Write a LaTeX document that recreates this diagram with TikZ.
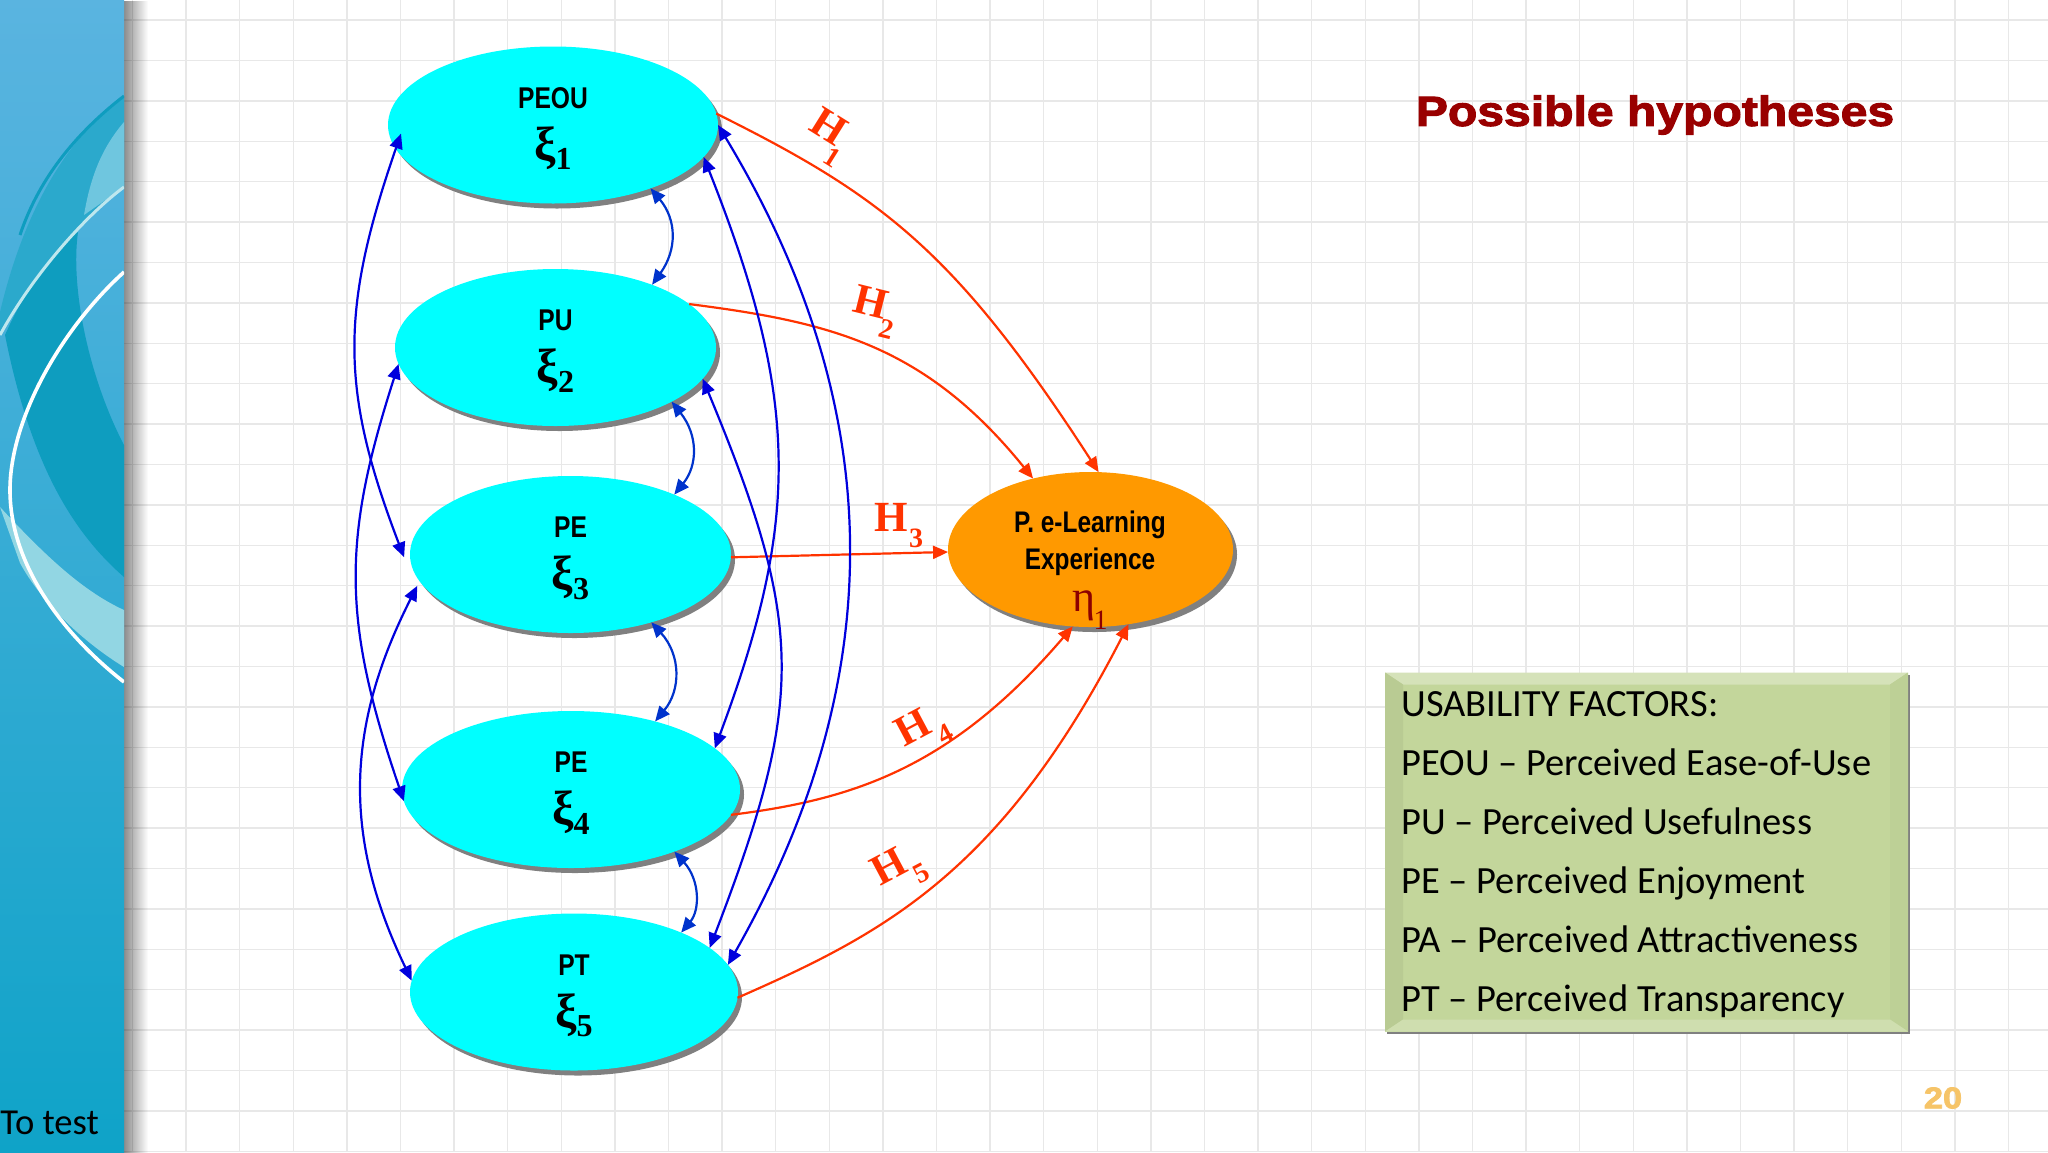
\documentclass[tikz,border=0pt]{standalone}
\usepackage{fontspec}
\usetikzlibrary{arrows.meta,shapes.geometric,shadows,calc,fadings}

\newfontfamily\namefont[FakeStretch=0.82]{Liberation Sans}
\newfontfamily\expfont[FakeStretch=0.82]{Liberation Sans}
\newfontfamily\timesfont{Liberation Serif}
\newfontfamily\carlitofont{Carlito}
\newfontfamily\titlefont[FakeStretch=1.145,BoldFeatures={FakeBold=2.6}]{Liberation Sans}

\definecolor{paneltop}{HTML}{5AB4E0}
\definecolor{panelbot}{HTML}{0FA3C8}
\definecolor{bandteal}{HTML}{2BA9CC}
\definecolor{bandlight}{HTML}{6FC6DF}
\definecolor{darkteal}{HTML}{0E9DBF}
\definecolor{lowband}{HTML}{92D6E3}
\definecolor{gridgray}{HTML}{E8E8E8}
\definecolor{hypred}{HTML}{FF3300}
\definecolor{linkblue}{HTML}{0000DD}
\definecolor{corrblue}{HTML}{0033CC}
\definecolor{boxgreen}{HTML}{C3D69B}
\definecolor{factorcyan}{HTML}{00FFFF}
\definecolor{outorange}{HTML}{FF9900}
\definecolor{pagegold}{HTML}{F6C468}

\newcommand{\hypo}[3]{H\kern#1\rlap{\smash{\raisebox{-#2}{\fontsize{14}{14}\selectfont #3}}}}
\newcommand{\factortext}[2]{\rule{0pt}{14pt}{\namefont\bfseries #1}\\{\timesfont\bfseries\fontsize{24}{24}\selectfont ξ\raisebox{-0.2em}{\fontsize{16}{16}\selectfont #2}}}

\tikzset{
    >={Triangle[length=7.5pt,width=6.5pt]},
    factor/.style={ellipse,fill=factorcyan,inner sep=0pt,outer sep=0pt,minimum height=78.5pt,align=center,
        font=\namefont\fontsize{15}{26}\selectfont,
        drop shadow={shadow xshift=2pt,shadow yshift=-2.5pt,fill=black!50,opacity=1}},
    outcome/.style={factor,fill=outorange},
    hyp/.style={draw=hypred,line width=1.1pt,->},
    hyplabel/.style={text=hypred,inner sep=0pt,font=\timesfont\bfseries\fontsize{21.5}{22}\selectfont},
    link/.style={draw=linkblue,line width=1.1pt,<->},
    corr/.style={draw=corrblue,line width=1.1pt,<->}
}

\begin{document}
\begin{tikzpicture}[x=0.5pt,y=-0.5pt]

    \useasboundingbox (0,0) rectangle (2048,1152);
    \fill[white] (0,0) rectangle (2048,1152);

    \foreach \k in {-1,...,34}
        \draw[gridgray,line width=0.7pt] ({186+53.6*\k},0) -- ({186+53.6*\k},1152);
    \foreach \k in {0,...,28}
        \draw[gridgray,line width=0.7pt] (124,{20+40.4*\k}) -- (2048,{20+40.4*\k});

    \fill[black,opacity=0.45,path fading=east] (124,0) rectangle (148,1152);

    % side panel
    \begin{scope}
        \clip (0,0) rectangle (124,1152);
        \shade[top color=paneltop,middle color=paneltop!70!panelbot,bottom color=panelbot] (0,0) rectangle (124,1152);
        \fill[bandteal] (124,96) .. controls (70,135) and (20,210) .. (-5,335) -- (0,335) .. controls (30,280) and (80,220) .. (124,187) -- cycle;
        \draw[darkteal,line width=1.5pt] (124,96) .. controls (80,130) and (40,175) .. (20,235);
        \fill[bandlight] (124,122) .. controls (100,150) and (90,180) .. (84,215) -- (124,187) -- cycle;
        \fill[darkteal] (78,232) .. controls (70,290) and (90,380) .. (124,445) -- (124,577) .. controls (70,530) and (30,460) .. (5,335) .. controls (25,290) and (50,255) .. (78,232) -- cycle;
        \fill[lowband] (0,507) .. controls (40,550) and (80,590) .. (124,610) -- (124,667) .. controls (80,640) and (40,600) .. (20,563) -- cycle;
        \draw[lowband!60!white,line width=1.5pt] (124,187) .. controls (80,220) and (30,280) .. (0,335);
        \draw[white,line width=1.8pt] (124,272) .. controls (60,330) and (10,420) .. (10,490) .. controls (10,570) and (70,640) .. (124,682);
    \end{scope}

    \node[factor,minimum width=165pt] (PEOU) at (553,125) {\factortext{PEOU}{1}};
    \node[factor,minimum width=160.5pt] (PU) at (555.5,347.5) {\factortext{PU}{2}};
    \node[factor,minimum width=160.5pt] (PEthree) at (570.5,554.5) {\factortext{PE}{3}};
    \node[factor,minimum width=169pt] (PEfour) at (571,789.5) {\factortext{PE}{4}};
    \node[factor,minimum width=164pt] (PT) at (574,992) {\factortext{PT}{5}};

    \node[outcome,minimum width=142.5pt,minimum height=77.5pt] (EXP) at (1090.5,549.5) {};
    \node[align=center,font=\expfont\bfseries\fontsize{14.9}{18.5}\selectfont,inner sep=0pt] (EXPname) at (1090,543) {P. e-Learning\\Experience};
    \node[inner sep=0pt,text=red!55!black,font=\timesfont\fontsize{22}{22}\selectfont] (EXPeta) at (1090,610) {η\kern-1pt\raisebox{-0.42em}{\fontsize{14}{14}\selectfont 1}};

    \draw[hyp] (PEOU.4) .. controls (880,195) and (955,250) .. (EXP.84);
    \draw[hyp] (PU.18) .. controls (830,322) and (925,345) .. (EXP.129);
    \draw[hyp] (PEthree.359) -- (EXP.181);
    \draw[hyp] (PEfour.351) .. controls (850,800) and (950,770) .. (EXP.257);
    \draw[hyp] (PT.358) .. controls (880,935) and (1000,875) .. (EXP.297);

    \node[hyplabel,rotate=-32] (Hone) at (827,125) {\hypo{-2pt}{10pt}{1}};
    \node[hyplabel,rotate=-14] (Htwo) at (870,302) {\hypo{-1.5pt}{9pt}{2}};
    \node[hyplabel] (Hthree) at (892,517) {\hypo{0.5pt}{8pt}{3}};
    \node[hyplabel,rotate=28] (Hfour) at (914,727) {\hypo{1pt}{8pt}{4}};
    \node[hyplabel,rotate=28] (Hfive) at (890,866) {\hypo{1pt}{8pt}{5}};

    \draw[corr] (PEOU.327) .. controls (677,220) and (677,250) .. (PU.33);
    \draw[corr] (PU.335) .. controls (698,435) and (698,465) .. (PEthree.30);
    \draw[corr] (PEthree.320) .. controls (681,655) and (681,690) .. (PEfour.39);
    \draw[corr] (PEfour.329) .. controls (700,880) and (700,910) .. (PT.29);

    \draw[link] ([xshift=6pt]PEOU.183) .. controls (340,310) and (340,390) .. ([xshift=-3pt]PEthree.181);
    \draw[link] (PU.186) .. controls (342,540) and (342,620) .. (PEfour.184);
    \draw[link] ([xshift=-3pt]PEthree.192) .. controls (344,730) and (344,840) .. (PT.176);

    \draw[link] (PEOU.0) .. controls (890,410) and (890,680) .. (PT.10);
    \draw[link] (PEOU.348) .. controls (800,400) and (800,520) .. (PEfour.16);
    \draw[link] (PU.348) .. controls (805,625) and (805,700) .. (PT.18);

    \node[text=red!60!black,inner sep=0pt,font=\titlefont\bfseries\fontsize{21}{22}\selectfont] (TITLE) at (1655,115) {Possible hypotheses};

    % usability box
    \node[rectangle,fill=boxgreen,inner sep=0pt,outer sep=0pt,minimum width=261.5pt,minimum height=179.5pt,
        drop shadow={shadow xshift=1pt,shadow yshift=-1pt,fill=black!50,opacity=1}] (BOX) at (1646.5,852) {};
    \fill[boxgreen!70!white] (BOX.north west) -- (BOX.north east) -- ($(BOX.north east)+(-18,12)$) -- ($(BOX.north west)+(18,12)$) -- cycle;
    \fill[boxgreen!95!black] (BOX.north west) -- ($(BOX.north west)+(18,12)$) -- ($(BOX.south west)+(18,-12)$) -- (BOX.south west) -- cycle;
    \fill[boxgreen!97!black] (BOX.north east) -- ($(BOX.north east)+(-18,12)$) -- ($(BOX.south east)+(-18,-12)$) -- (BOX.south east) -- cycle;
    \fill[boxgreen!80!white] (BOX.south west) -- ($(BOX.south west)+(18,-12)$) -- ($(BOX.south east)+(-18,-12)$) -- (BOX.south east) -- cycle;
    \node[anchor=north west,align=left,inner sep=0pt,font=\carlitofont\fontsize{19.25}{29.5}\selectfont] (BOXtext) at (1401,691)
        {USABILITY FACTORS:\\PEOU – Perceived Ease-of-Use\\PU – Perceived Usefulness\\PE – Perceived Enjoyment\\PA – Perceived Attractiveness\\PT – Perceived Transparency};

    \node[text=pagegold,inner sep=0pt,font=\titlefont\bfseries\fontsize{15}{16}\selectfont] (PAGE) at (1943,1098) {20};
    \node[anchor=base west,inner sep=0pt,font=\carlitofont\fontsize{18.3}{20}\selectfont] (TOTEST) at (0,1134) {To test};

\end{tikzpicture}
\end{document}
